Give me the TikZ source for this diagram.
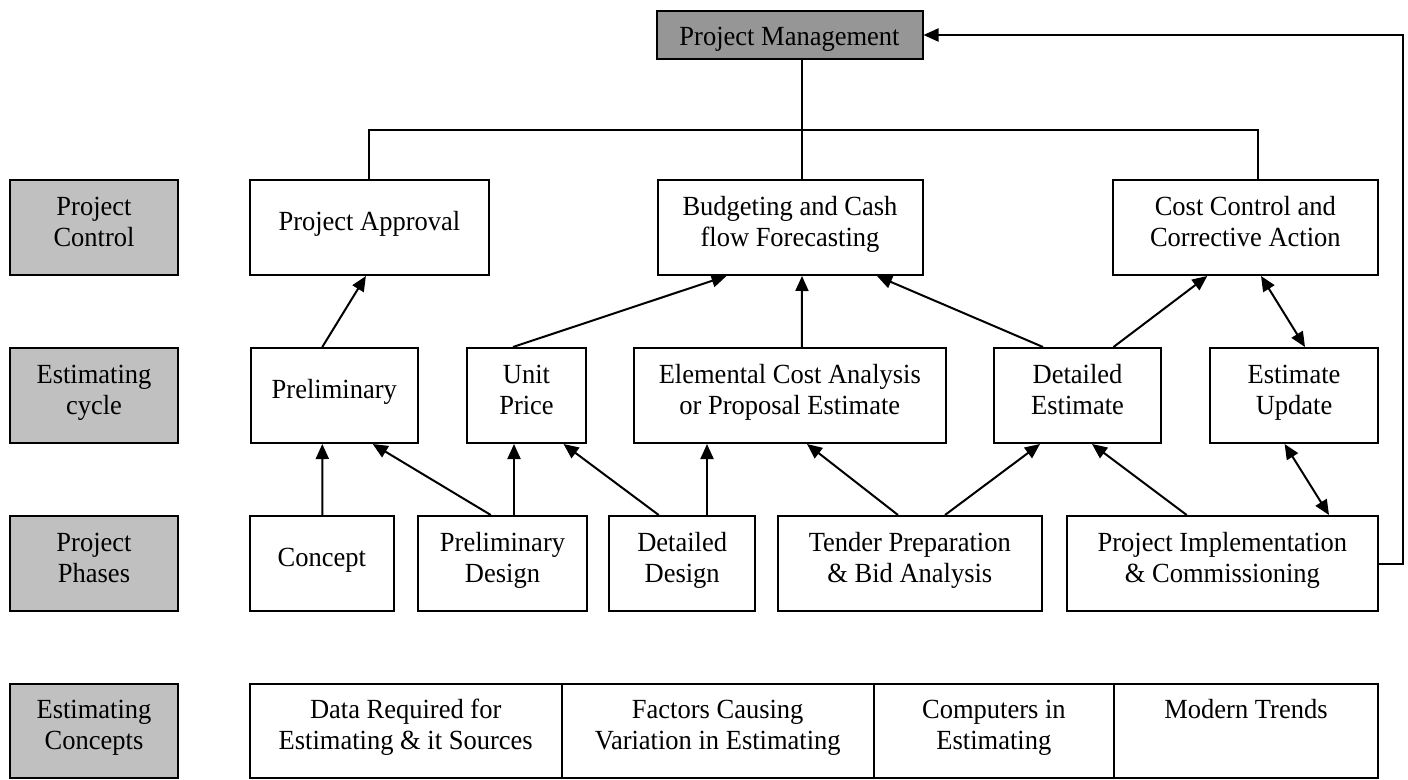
\documentclass[tikz,border=0pt]{standalone}
\usepackage{fontspec}
\setmainfont{Liberation Serif}
\usetikzlibrary{arrows.meta}
\definecolor{labgray}{RGB}{192,192,192}
\definecolor{pmgray}{RGB}{150,150,150}
\newcommand\bt[2][-3.5pt]{\raisebox{#1}[0pt][0pt]{\scalebox{1}[1.045]{\begin{tabular}{@{}c@{}}#2\end{tabular}}}}
\begin{document}
\begin{tikzpicture}[x=1pt,y=-1pt,
  bx/.style={draw=black, line width=2pt, fill=white, inner sep=0pt,
    font=\fontsize{26.5}{30}\selectfont, minimum height=95pt},
  lab/.style={bx, fill=labgray, minimum width=168pt},
  arr/.style={line width=2pt, -{Triangle[length=15pt,width=13pt]}},
  darr/.style={line width=2pt, {Triangle[length=15pt,width=13pt]}-{Triangle[length=15pt,width=13pt]}},
  ln/.style={line width=2pt}]
\useasboundingbox (0,0) rectangle (1408,779);

% top
\node[bx, fill=pmgray, minimum width=266pt, minimum height=48pt] (pm) at (789.5,35) {\bt[-10.5pt]{Project Management}};

% labels
\node[lab] (l1) at (94,227.5) {\bt{Project\\Control}};
\node[lab] (l2) at (94,395.5) {\bt{Estimating\\cycle}};
\node[lab] (l3) at (94,563.5) {\bt{Project\\Phases}};
\node[lab, minimum height=94pt] (l4) at (94,731) {\bt{Estimating\\Concepts}};

% row 1
\node[bx, minimum width=239pt] (pa) at (369.4,227.5) {\bt{Project Approval}};
\node[bx, minimum width=265pt] (bud) at (790,227.5) {\bt{Budgeting and Cash\\flow Forecasting}};
\node[bx, minimum width=265pt] (cc) at (1245.3,227.5) {\bt{Cost Control and\\Corrective Action}};

% row 2
\node[bx, minimum width=167pt] (pre) at (334.3,395.5) {\bt{Preliminary}};
\node[bx, minimum width=119pt] (up) at (526.5,395.5) {\bt{Unit\\Price}};
\node[bx, minimum width=312pt] (ela) at (789.8,395.5) {\bt{Elemental Cost Analysis\\or Proposal Estimate}};
\node[bx, minimum width=167pt] (de) at (1077.5,395.5) {\bt{Detailed\\Estimate}};
\node[bx, minimum width=168pt] (eu) at (1294,395.5) {\bt{Estimate\\Update}};

% row 3
\node[bx, minimum width=144pt] (con) at (321.9,563.5) {\bt{Concept}};
\node[bx, minimum width=169pt] (pd) at (502.5,563.5) {\bt{Preliminary\\Design}};
\node[bx, minimum width=146pt] (dd) at (682.2,563.5) {\bt{Detailed\\Design}};
\node[bx, minimum width=264pt] (tp) at (909.8,563.5) {\bt{Tender Preparation\\\& Bid Analysis}};
\node[bx, minimum width=311pt] (pi) at (1222.4,563.5) {\bt{Project Implementation\\\& Commissioning}};

% row 4
\node[bx, minimum width=312pt, minimum height=94pt] (c1) at (405.7,731) {\bt{Data Required for\\Estimating \& it Sources}};
\node[bx, minimum width=312pt, minimum height=94pt] (c2) at (717.7,731) {\bt{Factors Causing\\Variation in Estimating}};
\node[bx, minimum width=240pt, minimum height=94pt] (c3) at (993.9,731) {\bt{Computers in\\Estimating}};
\node[bx, minimum width=264pt, minimum height=94pt] (c4) at (1246,731) {\bt{Modern Trends\\\strut}};

% management links
\draw[ln] ([xshift=12.5pt]pm.south) -- ([xshift=12pt]bud.north);
\draw[ln] (pa.north) -- ++(0,-49) -| ([xshift=13pt]cc.north);
\draw[arr] (pi.east) -- ++(24,0) |- (pm.east);

% row 2 -> row 1
\draw[arr] ([xshift=-12pt]pre.north) -- ([xshift=-3.5pt]pa.south);
\draw[arr] ([xshift=-13.5pt]up.north) -- ([xshift=-63.5pt]bud.south);
\draw[arr] ([xshift=12pt]ela.north) -- ([xshift=12pt]bud.south);
\draw[arr] ([xshift=-34.5pt]de.north) -- ([xshift=87pt]bud.south);
\draw[arr] ([xshift=36pt]de.north) -- ([xshift=-38pt]cc.south);
\draw[darr] ([xshift=15.7pt]cc.south) -- ([xshift=11pt]eu.north);

% row 3 -> row 2
\draw[arr] ([xshift=0.5pt]con.north) -- ([xshift=-12pt]pre.south);
\draw[arr] ([xshift=-11.7pt]pd.north) -- ([xshift=38.4pt]pre.south);
\draw[arr] ([xshift=11.5pt]pd.north) -- ([xshift=-12.5pt]up.south);
\draw[arr] ([xshift=-23.5pt]dd.north) -- ([xshift=37pt]up.south);
\draw[arr] ([xshift=24.8pt]dd.north) -- ([xshift=-82.8pt]ela.south);
\draw[arr] ([xshift=-11.8pt]tp.north) -- ([xshift=17.2pt]ela.south);
\draw[arr] ([xshift=35.2pt]tp.north) -- ([xshift=-37.5pt]de.south);
\draw[arr] ([xshift=-35.7pt]pi.north) -- ([xshift=14.5pt]de.south);
\draw[darr] ([xshift=-9.4pt]eu.south) -- ([xshift=106.6pt]pi.north);
\end{tikzpicture}
\end{document}
